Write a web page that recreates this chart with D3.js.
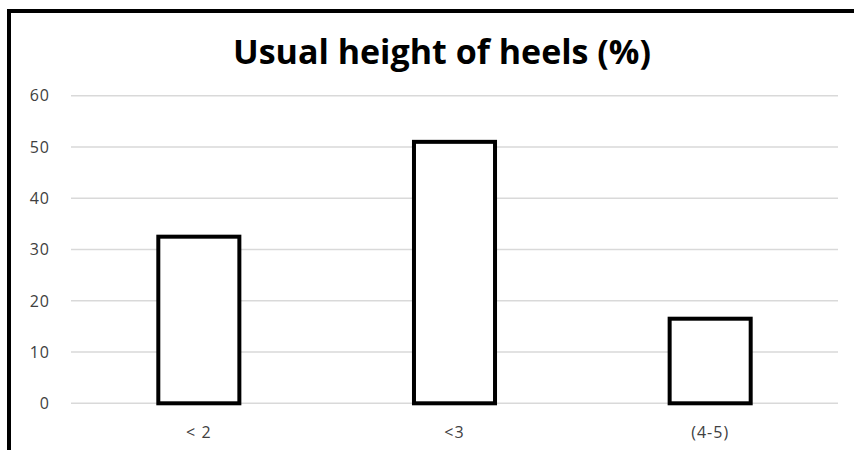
<!DOCTYPE html>
<html>
<head>
<meta charset="utf-8">
<script src="https://cdn.jsdelivr.net/npm/d3@7"></script>
<style>
  body { margin: 0; background: #fff; }
  svg { display: block; }
</style>
</head>
<body>
<div id="chart"></div>
<script>
// Chart data
const categories = ['< 2', '<3', '(4-5)'];
const values = [32.5, 51, 16.5];
const yTicks = [0, 10, 20, 30, 40, 50, 60];
const title = 'Usual height of heels (%)';

const width = 854, height = 450;
const margin = { left: 71, right: 16, top: 95.7, bottom: 46.7 };

const svg = d3.select('#chart')
              .append('svg')
              .attr('width', width)
              .attr('height', height);

// Outer frame (only left and top edges are inside the window)
svg.append('rect')
   .attr('x', 9)
   .attr('y', 11)
   .attr('width', width + 20)
   .attr('height', height + 20)
   .attr('fill', 'none')
   .attr('stroke', '#000')
   .attr('stroke-width', 4);

const x = d3.scaleBand()
            .domain(categories)
            .range([margin.left, width - margin.right])
            .paddingInner(0.683)
            .paddingOuter(0.3415);

const y = d3.scaleLinear()
            .domain([0, 60])
            .range([height - margin.bottom, margin.top]);

// Gridlines
svg.append('g')
   .selectAll('line')
   .data(yTicks)
   .join('line')
   .attr('x1', margin.left)
   .attr('x2', width - margin.right)
   .attr('y1', d => y(d))
   .attr('y2', d => y(d))
   .attr('stroke', '#d9d9d9')
   .attr('stroke-width', 1.5);

// Y axis labels
svg.append('g')
   .selectAll('text')
   .data(yTicks)
   .join('text')
   .attr('x', 50)
   .attr('y', d => y(d))
   .attr('dy', '0.36em')
   .attr('text-anchor', 'end')
   .attr('font-family', 'Open Sans, sans-serif')
   .attr('font-size', 16)
   .attr('letter-spacing', 1)
   .attr('fill', '#404040')
   .text(d => d);

// Bars
svg.append('g')
   .selectAll('rect')
   .data(values)
   .join('rect')
   .attr('x', (d, i) => x(categories[i]))
   .attr('y', d => y(d))
   .attr('width', x.bandwidth())
   .attr('height', d => y(0) - y(d))
   .attr('fill', '#fff')
   .attr('stroke', '#000')
   .attr('stroke-width', 4);

// X axis labels
svg.append('g')
   .selectAll('text')
   .data(categories)
   .join('text')
   .attr('x', d => x(d) + x.bandwidth() / 2)
   .attr('y', 438)
   .attr('text-anchor', 'middle')
   .attr('font-family', 'Open Sans, sans-serif')
   .attr('font-size', 16)
   .attr('letter-spacing', 1)
   .attr('fill', '#404040')
   .text(d => d);

// Title
svg.append('text')
   .attr('x', 442)
   .attr('y', 64)
   .attr('text-anchor', 'middle')
   .attr('font-family', 'Open Sans, sans-serif')
   .attr('font-weight', 'bold')
   .attr('font-size', 34)
   .attr('fill', '#000')
   .text(title);
</script>
</body>
</html>
